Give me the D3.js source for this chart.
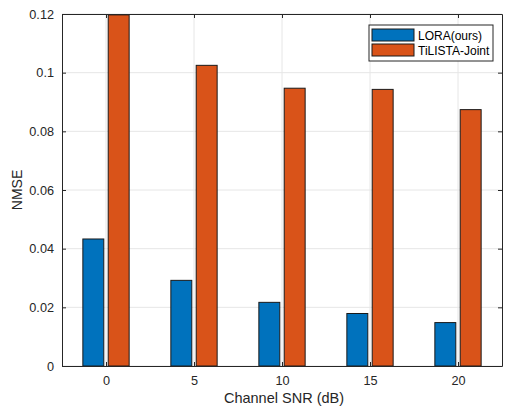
<!DOCTYPE html>
<html>
<head>
<meta charset="utf-8">
<script src="https://cdn.jsdelivr.net/npm/d3@7"></script>
<style>
  body { margin: 0; background: #fff; }
  svg { display: block; font-family: "Liberation Sans", Arial, Helvetica, sans-serif; }
</style>
</head>
<body>
<svg id="chart" width="507" height="410"></svg>
<script>
// chart data
const snrLevels = [0, 5, 10, 15, 20];
const seriesNames = ["LORA(ours)", "TiLISTA-Joint"];
const loraValues = [0.0433, 0.0292, 0.0217, 0.0179, 0.0148];
const tilistaValues = [0.1197, 0.1025, 0.0947, 0.0943, 0.0874];
const yTicks = [0, 0.02, 0.04, 0.06, 0.08, 0.1, 0.12];
const colors = ["#0072BD", "#D95319"];

const margin = { top: 14, right: 5, bottom: 44, left: 62 };
const W = 507, H = 410;
const svg = d3.select("#chart");
const g = svg.append("g").attr("transform", `translate(${margin.left},${margin.top})`);
const w = W - margin.left - margin.right;
const h = H - margin.top - margin.bottom;

const x = d3.scaleLinear().domain([-2.5, 22.5]).range([0, w]);
const y = d3.scaleLinear().domain([0, 0.12]).range([h, 0]);

// grid
g.append("g").selectAll("line.gy").data(yTicks).join("line")
  .attr("x1", 0).attr("x2", w).attr("y1", d => y(d)).attr("y2", d => y(d))
  .attr("stroke", "#e6e6e6").attr("stroke-width", 1);
g.append("g").selectAll("line.gx").data(snrLevels).join("line")
  .attr("x1", d => x(d)).attr("x2", d => x(d)).attr("y1", 0).attr("y2", h)
  .attr("stroke", "#e6e6e6").attr("stroke-width", 1);

// bars
const barW = x(1.19) - x(0);
const offset = x(0.72) - x(0);
const series = [loraValues, tilistaValues];
series.forEach((vals, i) => {
  g.append("g").selectAll("rect").data(vals).join("rect")
    .attr("x", (d, j) => x(snrLevels[j]) + (i === 0 ? -offset : offset) - barW / 2)
    .attr("y", d => y(d))
    .attr("width", barW)
    .attr("height", d => h - y(d))
    .attr("fill", colors[i])
    .attr("stroke", "#1a1a1a").attr("stroke-width", 1);
});

// axes (box with inward ticks, MATLAB style)
const axColor = "#262626";
const xAxis = g.append("g").attr("transform", `translate(0,${h})`)
  .call(d3.axisBottom(x).tickValues(snrLevels).tickSizeInner(-4).tickSizeOuter(0).tickPadding(10));
const yAxis = g.append("g")
  .call(d3.axisLeft(y).tickValues(yTicks).tickFormat(d => d3.format("~g")(d)).tickSizeInner(-4).tickSizeOuter(0).tickPadding(8));
const xTop = g.append("g")
  .call(d3.axisTop(x).tickValues(snrLevels).tickSizeInner(-4).tickSizeOuter(0).tickFormat(""));
const yRight = g.append("g").attr("transform", `translate(${w},0)`)
  .call(d3.axisRight(y).tickValues(yTicks).tickSizeInner(-4).tickSizeOuter(0).tickFormat(""));
[xAxis, yAxis, xTop, yRight].forEach(a => {
  a.select(".domain").attr("stroke", axColor);
  a.selectAll(".tick line").attr("stroke", axColor);
  a.selectAll("text").attr("fill", axColor).style("font-size", "12.7px");
});

// labels
svg.append("text").attr("x", margin.left + w / 2 + 2).attr("y", 403)
  .attr("text-anchor", "middle").attr("fill", axColor).style("font-size", "14.5px")
  .text("Channel SNR (dB)");
svg.append("text").attr("transform", `translate(22,${margin.top + h / 2}) rotate(-90)`)
  .attr("text-anchor", "middle").attr("fill", axColor).style("font-size", "14px")
  .text("NMSE");

// legend
const leg = svg.append("g").attr("transform", "translate(369,25)");
leg.append("rect").attr("width", 124).attr("height", 36)
  .attr("fill", "#fff").attr("stroke", axColor).attr("stroke-width", 1);
seriesNames.forEach((name, i) => {
  const row = leg.append("g").attr("transform", `translate(3,${4 + i * 15})`);
  row.append("rect").attr("width", 42).attr("height", 12)
    .attr("fill", colors[i]).attr("stroke", "#1a1a1a");
  row.append("text").attr("x", 46).attr("y", 11)
    .attr("fill", "#000").style("font-size", "12px").text(name);
});
</script>
</body>
</html>
